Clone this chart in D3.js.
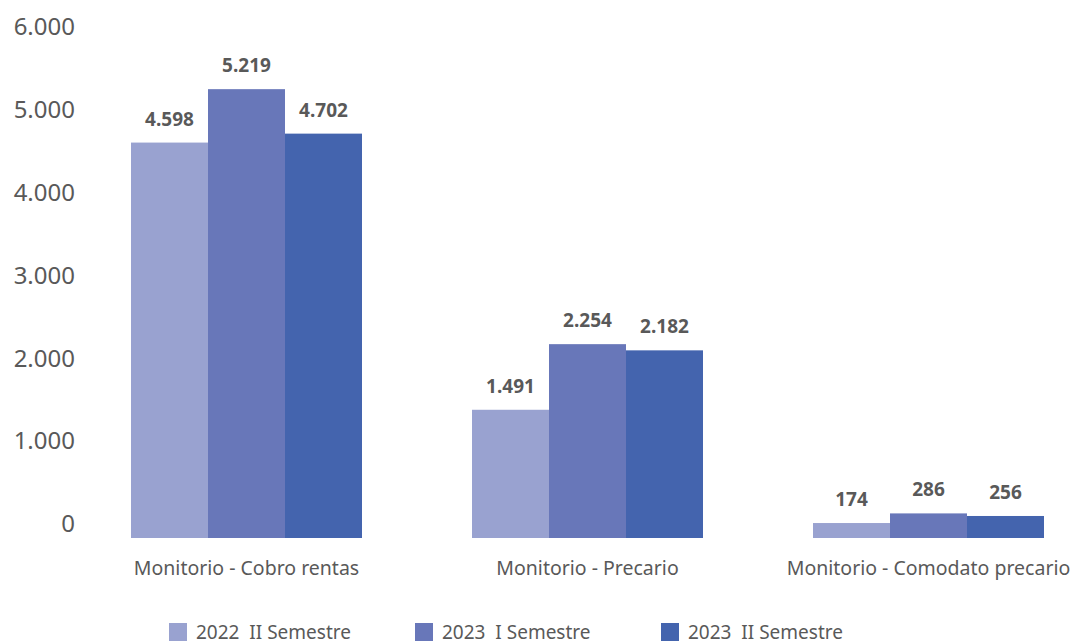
<!DOCTYPE html>
<html><head><meta charset="utf-8"><script src="https://cdn.jsdelivr.net/npm/d3@7"></script>
<style>body{margin:0;background:#fff}text{font-family:"Noto Sans",sans-serif;fill:#595959}</style></head>
<body>
<svg id="chart" width="1079" height="644"></svg>
<script>
const categories = ["Monitorio - Cobro rentas", "Monitorio - Precario", "Monitorio - Comodato precario"];
const seriesNames = ["2022  II Semestre", "2023  I Semestre", "2023  II Semestre"];
const s2022II = [4598, 1491, 174];
const s2023I = [5219, 2254, 286];
const s2023II = [4702, 2182, 256];
const yTicks = [0, 1000, 2000, 3000, 4000, 5000, 6000];
const colors = ["#99A2D0", "#6877B9", "#4464AE"];

const series = [s2022II, s2023I, s2023II];
const fmt = v => d3.format(",")(v).replace(/,/g, ".");

const svg = d3.select("#chart");

const x0 = d3.scaleBand().domain(categories).range([76, 1099]).paddingInner(0.3226).paddingOuter(0.1613);
const x1 = d3.scaleBand().domain(d3.range(series.length)).range([0, x0.bandwidth()]);
const y = d3.scaleLinear().domain([0, 6000]).range([538, 22]);
const yLab = d3.scaleLinear().domain([0, 6000]).range([524, 27]);

// y-axis labels
const yAxis = svg.append("g").attr("transform", "translate(75,0)")
  .call(d3.axisLeft(yLab).tickValues(yTicks).tickSize(0).tickPadding(0).tickFormat(fmt));
yAxis.select(".domain").remove();
yAxis.selectAll("text").attr("font-size", 24).attr("fill", "#595959")
  .style("font-family", '"Noto Sans",sans-serif');

// bars
const groups = svg.append("g").selectAll("g").data(categories).join("g")
  .attr("transform", d => `translate(${x0(d)},0)`);
groups.selectAll("rect").data((d, ci) => series.map((s, si) => ({si, v: s[ci]}))).join("rect")
  .attr("x", d => x1(d.si)).attr("width", x1.bandwidth())
  .attr("y", d => y(d.v)).attr("height", d => y(0) - y(d.v))
  .attr("fill", d => colors[d.si]);
groups.selectAll("text.val").data((d, ci) => series.map((s, si) => ({si, v: s[ci]}))).join("text")
  .attr("class", "val")
  .attr("x", d => x1(d.si) + x1.bandwidth() / 2).attr("y", d => y(d.v) - 17)
  .attr("text-anchor", "middle").attr("font-size", 19).attr("font-weight", "bold")
  .text(d => fmt(d.v));

// category labels
const xAxis = svg.append("g").attr("transform", "translate(0,538)")
  .call(d3.axisBottom(x0).tickSize(0).tickPadding(0));
xAxis.select(".domain").remove();
xAxis.selectAll("text").attr("font-size", 19.5).attr("fill", "#595959").attr("dy", null).attr("y", 37)
  .style("font-family", '"Noto Sans",sans-serif');

// legend
const legendX = [169, 415, 661];
const legend = svg.append("g").selectAll("g").data(seriesNames).join("g")
  .attr("transform", (d, i) => `translate(${legendX[i]},623)`);
legend.append("rect").attr("width", 18).attr("height", 18).attr("fill", (d, i) => colors[i]);
legend.append("text").attr("x", 27).attr("y", 16).attr("font-size", 19)
  .style("white-space", "pre").attr("xml:space", "preserve").text(d => d);
</script></body></html>
